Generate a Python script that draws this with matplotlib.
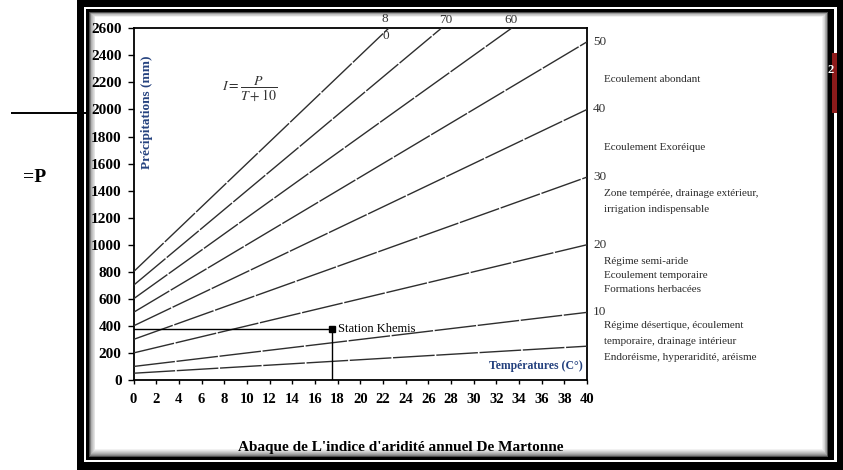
import matplotlib
matplotlib.use("Agg")
import matplotlib.pyplot as plt
from matplotlib.patches import Rectangle
import numpy as np

# ---- data -------------------------------------------------------------
indices = [5, 10, 20, 30, 40, 50, 60, 70, 80]     # De Martonne index I, P = I (T + 10)
right_labels = [10, 20, 30, 40, 50]               # values written at the right edge
top_labels = [60, 70, 80]                         # values written along the top edge
temp_range = [0, 40]                              # temperature span (°C)
x_ticks = list(range(0, 41, 2))
y_ticks = list(range(0, 2601, 200))

station_name = "Station Khemis"
station_T = 17.5
station_P = 380

zone_texts = [
    ["Ecoulement abondant"],
    ["Ecoulement Exoréique"],
    ["Zone tempérée, drainage extérieur,", "irrigation indispensable"],
    ["Régime semi-aride", "Ecoulement temporaire", "Formations herbacées"],
    ["Régime désertique, écoulement", "temporaire, drainage intérieur",
     "Endoréisme, hyperaridité, aréisme"],
]

title = "Abaque de L'indice d'aridité annuel De Martonne"

# ---- figure -----------------------------------------------------------
W, H, DPI = 843, 470, 100
plt.rcParams["font.family"] = ["Liberation Serif", "DejaVu Serif"]
plt.rcParams["mathtext.fontset"] = "stix"

fig = plt.figure(figsize=(W / DPI, H / DPI), dpi=DPI, facecolor="white")

# background layer in pixel coordinates (frame, side texts)
bg = fig.add_axes([0, 0, 1, 1], zorder=0)
bg.set_xlim(0, W)
bg.set_ylim(H, 0)
bg.axis("off")


def rect(x0, y0, x1, y1, color, z=1, **kw):
    r = Rectangle((x0, y0), x1 - x0, y1 - y0, facecolor=color,
                  edgecolor="none", zorder=z, **kw)
    bg.add_patch(r)
    return r


# framed picture border
rect(77, 0, W, H, "black", 1)
rect(84, 7, 837, 462, "white", 2)
rect(86, 9, 834, 460, "black", 3)
# soft inner shadow
n = 8
for k in range(n + 1):
    g = 0.30 + 0.70 * (k / n) ** 0.6
    rect(89 + 0.8 * k, 12 + 0.6 * k, 828 - 0.7 * k, 457 - 1.0 * k,
         (g, g, g), 4 + k * 0.01)
rect(96, 17, 822, 448, "white", 5)

# small red tab behind the frame on the right
tab = rect(832, 53, 837, 113, "#8c1b1b", 6)
t2 = bg.text(831, 70, "2", color="white", fontsize=9, fontweight="bold",
             ha="center", va="center", zorder=7)
t2.set_clip_path(tab)

# marks outside the frame on the left
bg.plot([11, 88], [113, 113], color="black", lw=1.4, zorder=8,
        solid_capstyle="butt")
bg.text(34.5, 177, "=P", fontsize=14, fontweight="bold", ha="center",
        va="center", zorder=8)

# ---- chart ------------------------------------------------------------
x0, x1, ytop, ybot = 133.5, 587, 28.3, 380
ax = fig.add_axes([x0 / W, 1 - ybot / H, (x1 - x0) / W, (ybot - ytop) / H],
                  zorder=10)
ax.set_facecolor("none")
ax.set_xlim(temp_range)
ax.set_ylim(0, 2600)

T = np.array(temp_range, dtype=float)
for I in indices:
    ax.plot(T, I * (T + 10), color="#2e2e2e", lw=1.0,
            linestyle=(0, (30, 1.2)), zorder=3)

# station reference lines and marker
ax.plot([0, station_T], [station_P, station_P], color="black", lw=1.0, zorder=4)
ax.plot([station_T, station_T], [0, station_P], color="black", lw=1.0, zorder=4)
ax.plot([station_T], [station_P], marker="s", ms=5, color="black", zorder=5)
ax.annotate(station_name, (station_T, station_P), xytext=(6, 0),
            textcoords="offset pixels", ha="left", va="center", fontsize=9)

# index values at the line ends
for I in right_labels:
    ax.annotate(str(I), (40, I * 50), xytext=(6, 0), textcoords="offset pixels",
                ha="left", va="center", fontsize=9.5, color="#333333",
                annotation_clip=False)
for I in top_labels:
    t_top = 2600 / I - 10
    if I == 80:
        ax.annotate("8", (t_top, 2600), xytext=(-4, 9), textcoords="offset pixels",
                    ha="center", va="center", fontsize=9.5, color="#333333",
                    annotation_clip=False)
        ax.annotate("0", (t_top, 2600), xytext=(-3, -8), textcoords="offset pixels",
                    ha="center", va="center", fontsize=9.5, color="#333333",
                    annotation_clip=False)
    else:
        dx = 5 if I == 70 else 0
        ax.annotate(str(I), (t_top, 2600), xytext=(dx, 8),
                    textcoords="offset pixels", ha="center", va="center",
                    fontsize=9.5, color="#333333", annotation_clip=False)

# formula
ax.text((250 - x0) / (x1 - x0), (ybot - 89) / (ybot - ytop),
        r"$I=\dfrac{P}{T+10}$", transform=ax.transAxes, ha="center",
        va="center", fontsize=10, color="#333333")

# axis captions inside the frame
ax.text((146.7 - x0) / (x1 - x0), (ybot - 112) / (ybot - ytop),
        "Précipitations (mm)", transform=ax.transAxes, rotation=90,
        ha="center", va="center", fontsize=9.5, fontweight="bold",
        color="#25427f")
ax.text((583 - x0) / (x1 - x0), (ybot - 366) / (ybot - ytop),
        "Températures (C°)", transform=ax.transAxes, ha="right",
        va="center", fontsize=8.5, fontweight="bold", color="#25427f")

# axes styling
for s in ax.spines.values():
    s.set_linewidth(1.3)
    s.set_color("black")
ax.set_xticks(x_ticks)
ax.set_yticks(y_ticks)
ax.tick_params(axis="y", direction="out", length=4, width=1, pad=4.5,
               labelsize=11)
ax.tick_params(axis="x", direction="out", length=3, width=1, pad=6.5,
               labelsize=10.5)
for lab in ax.get_xticklabels() + ax.get_yticklabels():
    lab.set_fontweight("bold")

# zone descriptions on the right
zone_y = [[80], [147], [194, 210], [261, 275, 290], [326, 341, 357]]
for lines, ys in zip(zone_texts, zone_y):
    for txt, y in zip(lines, ys):
        bg.text(604, y, txt, fontsize=8, ha="left", va="center",
                color="#2a2a2a", zorder=8)

bg.text(401, 448, title, fontsize=11, fontweight="bold", ha="center",
        va="center", zorder=8)

fig.savefig("out.png", dpi=DPI, facecolor="white")
